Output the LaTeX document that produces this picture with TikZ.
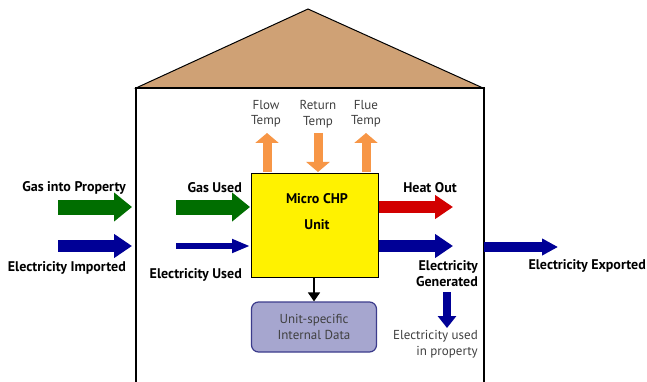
\documentclass[tikz,border=0pt]{standalone}
\usepackage{fontspec}
\setmainfont{PT Sans}
\usetikzlibrary{arrows.meta}
\definecolor{roofc}{RGB}{207,161,117}
\definecolor{gasg}{RGB}{0,110,0}
\definecolor{elecb}{RGB}{0,0,150}
\definecolor{heatr}{RGB}{210,0,0}
\definecolor{tempo}{RGB}{247,150,70}
\definecolor{databox}{RGB}{166,166,207}
\definecolor{databord}{RGB}{60,60,140}
\definecolor{greytext}{RGB}{64,64,64}
\begin{document}
\begin{tikzpicture}[x=1pt,y=-1pt,
  lbl/.style={font=\bfseries\fontsize{14}{16}\selectfont, text=black, inner sep=0pt},
  glbl/.style={font=\fontsize{13}{15.5}\selectfont, text=greytext, inner sep=0pt},
  fatarrow/.style={line width=15pt, -{Triangle[length=18pt,width=28pt]}},
  medarrow/.style={line width=12pt, -{Triangle[length=18pt,width=23pt]}},
  thinarrow/.style={line width=6pt, -{Triangle[length=18pt,width=13pt]}},
  temparrow/.style={tempo, line width=9pt, -{Triangle[length=10pt,width=23pt]}},
  downarrow/.style={elecb, line width=8pt, -{Triangle[length=12pt,width=18pt]}}]
\useasboundingbox (0,0) rectangle (647,382);
\fill[white] (0,0) rectangle (647,382);
% roof and walls
\filldraw[fill=roofc, draw=black, line width=1pt] (136,88) -- (308,9) -- (483,88) -- cycle;
\draw[line width=1.4pt] (136,382) -- (136,88) -- (484,88) -- (484,382);
% CHP unit
\node[draw, fill=yellow, line width=1.3pt, minimum width=127pt, minimum height=104pt, anchor=north west, inner sep=0pt] (chp) at (251,173) {};
\node[lbl] (chpa) at (317,199) {Micro CHP};
\node[lbl] (chpb) at (317,225) {Unit};
% temps
\node[glbl, align=center] (flow) at (266,114) {Flow\\Temp};
\node[glbl, align=center] (ret) at (318,114) {Return\\Temp};
\node[glbl, align=center] (flue) at (366,114) {Flue\\Temp};
\coordinate (flowa) at (267,172); \coordinate (flowb) at (267,133);
\coordinate (reta) at (318,133); \coordinate (retb) at (318,172);
\coordinate (fluea) at (366,172); \coordinate (flueb) at (366,133);
\draw[temparrow] (flowa) -- (flowb);
\draw[temparrow] (reta) -- (retb);
\draw[temparrow] (fluea) -- (flueb);
% inputs
\node[lbl, anchor=east] (gip) at (126,188) {Gas into Property};
\node[lbl, anchor=east] (eimp) at (126,268) {Electricity Imported};
\node[lbl, anchor=east] (gused) at (242,188) {Gas Used};
\node[lbl, anchor=east] (eused) at (242,275) {Electricity Used};
\coordinate (g1s) at (58,207); \coordinate (g1e) at (132,207);
\coordinate (g2s) at (176,207); \coordinate (g2e) at (250,207);
\coordinate (e1s) at (58,246); \coordinate (e1e) at (132,246);
\coordinate (e2s) at (176,246); \coordinate (e2e) at (250,246);
\draw[fatarrow, gasg] (g1s) -- (g1e);
\draw[fatarrow, gasg] (g2s) -- (g2e);
\draw[medarrow, elecb] (e1s) -- (e1e);
\draw[thinarrow, elecb] (e2s) -- (e2e);
% outputs
\node[lbl] (heat) at (430,188) {Heat Out};
\coordinate (hs) at (379,207); \coordinate (he) at (453,207);
\draw[medarrow, heatr] (hs) -- (he);
\coordinate (egs) at (379,246); \coordinate (ege) at (453,246);
\draw[medarrow, elecb] (egs) -- (ege);
\node[lbl, anchor=east, align=right] (egen) at (478,274) {Electricity\\Generated};
\coordinate (eda) at (447,292); \coordinate (edb) at (447,328);
\draw[downarrow] (eda) -- (edb);
\node[glbl, anchor=east, align=right] (euip) at (478,344) {Electricity used\\in property};
\coordinate (exs) at (484,247); \coordinate (exe) at (558,247);
\draw[elecb, line width=10pt, -{Triangle[length=16pt,width=16pt]}] (exs) -- (exe);
\node[lbl, anchor=east] (eexp) at (646,266) {Electricity Exported};
% internal data
\node[draw=databord, fill=databox, line width=1.2pt, rounded corners=7pt, minimum width=125pt, minimum height=50pt, align=center, font=\fontsize{13}{16}\selectfont, text=greytext] (data) at (314,327) {Unit-specific\\Internal Data};
\draw[line width=1.6pt, -{Triangle[length=9pt,width=12pt]}] (chp.south -| data.north) -- (data.north);
\end{tikzpicture}
\end{document}
